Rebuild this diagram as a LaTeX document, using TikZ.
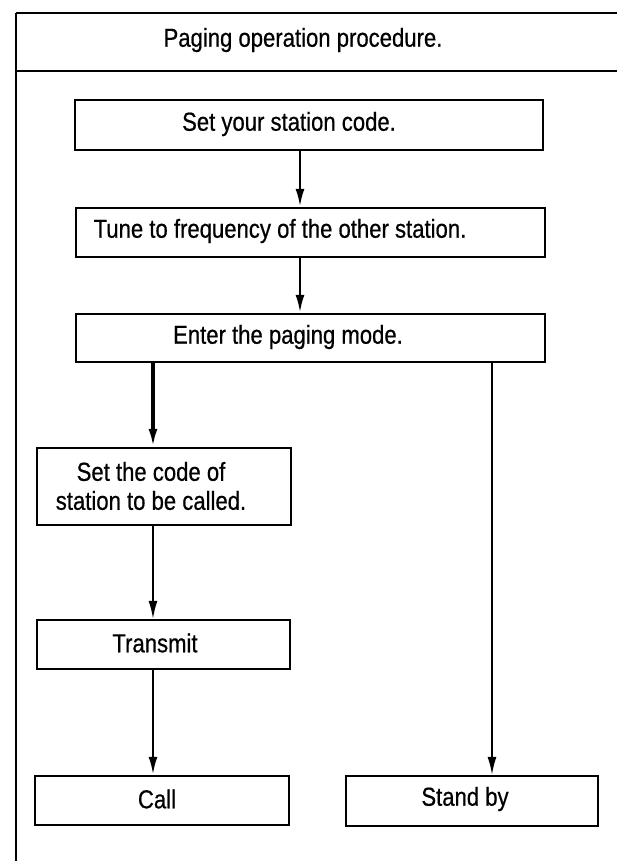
\documentclass[tikz,border=0pt]{standalone}
\usepackage{fontspec}
\setmainfont[FakeStretch=0.85,FakeBold=0.6]{Liberation Sans}
\usetikzlibrary{arrows.meta}
\begin{document}
\begin{tikzpicture}[x=1pt,y=-1pt,
  box/.style={draw, line width=2.3pt, inner sep=0pt},
  txt/.style={font=\fontsize{26}{29}\selectfont, align=center, inner sep=0pt},
  arr/.style={-{Latex[length=18pt,width=9pt]}, line width=2.6pt},
  thinarr/.style={-{Latex[length=18pt,width=9pt]}, line width=1.8pt},
  rule/.style={line width=2.2pt}]
\useasboundingbox (0,0) rectangle (617,861);
% frame
\coordinate (tl) at (16,13);
\coordinate (tr) at (617,13);
\coordinate (ml) at (16,71);
\coordinate (mr) at (617,71);
\coordinate (bl) at (16,861);
\draw[rule] (tl) -- (tr);
\draw[rule] (ml) -- (mr);
\draw[rule] (tl) -- (bl);
\node[txt] (title) at (303,40) {Paging operation procedure.};
% boxes
\node[box, minimum width=468pt, minimum height=50pt] (b1) at (309,125) {};
\node[txt] (t1) at (289,124) {Set your station code.};
\node[box, minimum width=469pt, minimum height=49pt] (b2) at (310.5,232.5) {};
\node[txt] (t2) at (280,231) {Tune to frequency of the other station.};
\node[box, minimum width=469pt, minimum height=48pt] (b3) at (310.5,338) {};
\node[txt] (t3) at (288,337) {Enter the paging mode.};
\node[box, minimum width=254pt, minimum height=77pt] (b4) at (164,486.5) {};
\node[txt] (t4) at (151,486) {Set the code of\\station to be called.};
\node[box, minimum width=253pt, minimum height=49pt] (b5) at (163.5,644.5) {};
\node[txt] (t5) at (155,643) {Transmit};
\node[box, minimum width=254pt, minimum height=49pt] (b6) at (162,800.5) {};
\node[txt] (t6) at (157,799) {Call};
\node[box, minimum width=252pt, minimum height=50pt] (b7) at (472,801) {};
\node[txt] (t7) at (465,799) {Stand by};
% arrow columns
\coordinate (c1) at (300,0);
\coordinate (c2) at (153,0);
\coordinate (c3) at (492,0);
\draw[arr] (b1.south -| c1) -- (b2.north -| c1);
\draw[arr] (b2.south -| c1) -- (b3.north -| c1);
\draw[arr, line width=3.2pt] (b3.south -| c2) -- (b4.north -| c2);
\draw[thinarr] (b4.south -| c2) -- (b5.north -| c2);
\draw[arr] (b5.south -| c2) -- (b6.north -| c2);
\draw[thinarr] (b3.south -| c3) -- (b7.north -| c3);
\end{tikzpicture}
\end{document}
